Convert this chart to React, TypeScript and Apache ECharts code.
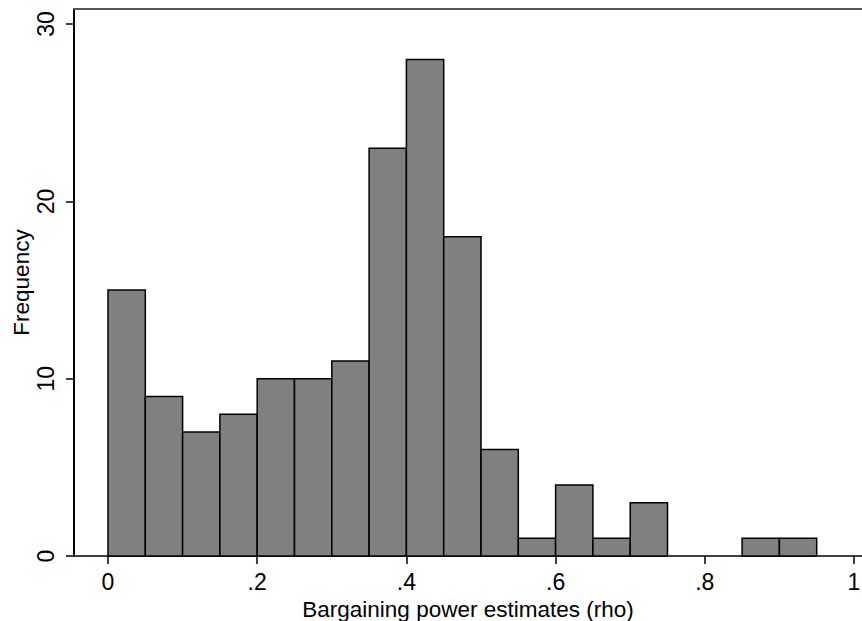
import React, { useEffect, useRef } from "react";
import * as echarts from "echarts";

// Histogram of bargaining power estimates, bins of width .05
const binStart = [0, 0.05, 0.1, 0.15, 0.2, 0.25, 0.3, 0.35, 0.4, 0.45, 0.5, 0.55, 0.6, 0.65, 0.7, 0.75, 0.8, 0.85, 0.9];
const binEnd = [0.05, 0.1, 0.15, 0.2, 0.25, 0.3, 0.35, 0.4, 0.45, 0.5, 0.55, 0.6, 0.65, 0.7, 0.75, 0.8, 0.85, 0.9, 0.95];
const counts = [15, 9, 7, 8, 10, 10, 11, 23, 28, 18, 6, 1, 4, 1, 3, 0, 0, 1, 1];

const xTicks = [0, 0.2, 0.4, 0.6, 0.8, 1];
const yTicks = [0, 10, 20, 30];

const FONT = "'Liberation Sans', Arial, Helvetica, sans-serif";

function fmtX(v: number): string {
  if (v === 0) return "0";
  if (v === 1) return "1";
  return String(v).replace(/^0/, "");
}

export default function App() {
  const ref = useRef<HTMLDivElement>(null);

  useEffect(() => {
    if (!ref.current) return;
    const chart = echarts.init(ref.current, undefined, { renderer: "svg" });
    const data = binStart
      .map((s, i) => [s, binEnd[i], counts[i]])
      .filter((d) => d[2] > 0);

    chart.setOption({
      animation: false,
      backgroundColor: "#ffffff",
      grid: { left: 74, right: 0, top: 9, bottom: 65, containLabel: false, outerBoundsMode: "none" },
      xAxis: [
        {
          type: "value",
          min: -0.04558,
          max: 1.01072,
          position: "bottom",
          name: "Bargaining power estimates (rho)",
          nameLocation: "middle",
          nameGap: 42,
          nameMoveOverlap: false,
          nameTextStyle: { color: "#000", fontSize: 22.5, fontFamily: FONT },
          axisLine: { show: true, onZero: false, lineStyle: { color: "#000", width: 1.5 } },
          axisTick: { show: true, length: 8, customValues: xTicks, lineStyle: { color: "#000", width: 1.5 } },
          axisLabel: {
            show: true,
            customValues: xTicks,
            formatter: fmtX,
            color: "#000",
            fontSize: 23,
            fontFamily: FONT,
            margin: 14,
          },
          splitLine: { show: false },
        },
        {
          type: "value",
          min: -0.04558,
          max: 1.01072,
          position: "top",
          axisLine: { show: true, onZero: false, lineStyle: { color: "#555", width: 2 } },
          axisTick: { show: false },
          axisLabel: { show: false },
          splitLine: { show: false },
        },
      ],
      yAxis: {
        type: "value",
        min: 0,
        max: 30.85,
        name: "Frequency",
        nameLocation: "middle",
        nameGap: 41,
        nameMoveOverlap: false,
        nameRotate: 90,
        nameTextStyle: { color: "#000", fontSize: 22.5, fontFamily: FONT },
        axisLine: { show: true, onZero: false, lineStyle: { color: "#000", width: 2 } },
        axisTick: { show: true, length: 8, customValues: yTicks, lineStyle: { color: "#000", width: 1.5 } },
        axisLabel: {
          show: true,
          customValues: yTicks,
          rotate: 90,
          color: "#000",
          fontSize: 23,
          fontFamily: FONT,
          margin: 17,
        },
        splitLine: { show: false },
      },
      series: [
        {
          type: "custom",
          xAxisIndex: 0,
          data,
          renderItem: (params: any, api: any) => {
            const p0 = api.coord([api.value(0), api.value(2)]);
            const p1 = api.coord([api.value(1), 0]);
            return {
              type: "rect",
              shape: { x: p0[0], y: p0[1], width: p1[0] - p0[0], height: p1[1] - p0[1] },
              style: { fill: "#808080", stroke: "#000", lineWidth: 1.5 },
            };
          },
          encode: { x: [0, 1], y: 2 },
        },
      ],
    });
    return () => chart.dispose();
  }, []);

  return (
    <div
      ref={ref}
      style={{ position: "fixed", left: 0, top: 0, width: 862, height: 621, background: "#fff" }}
    />
  );
}
